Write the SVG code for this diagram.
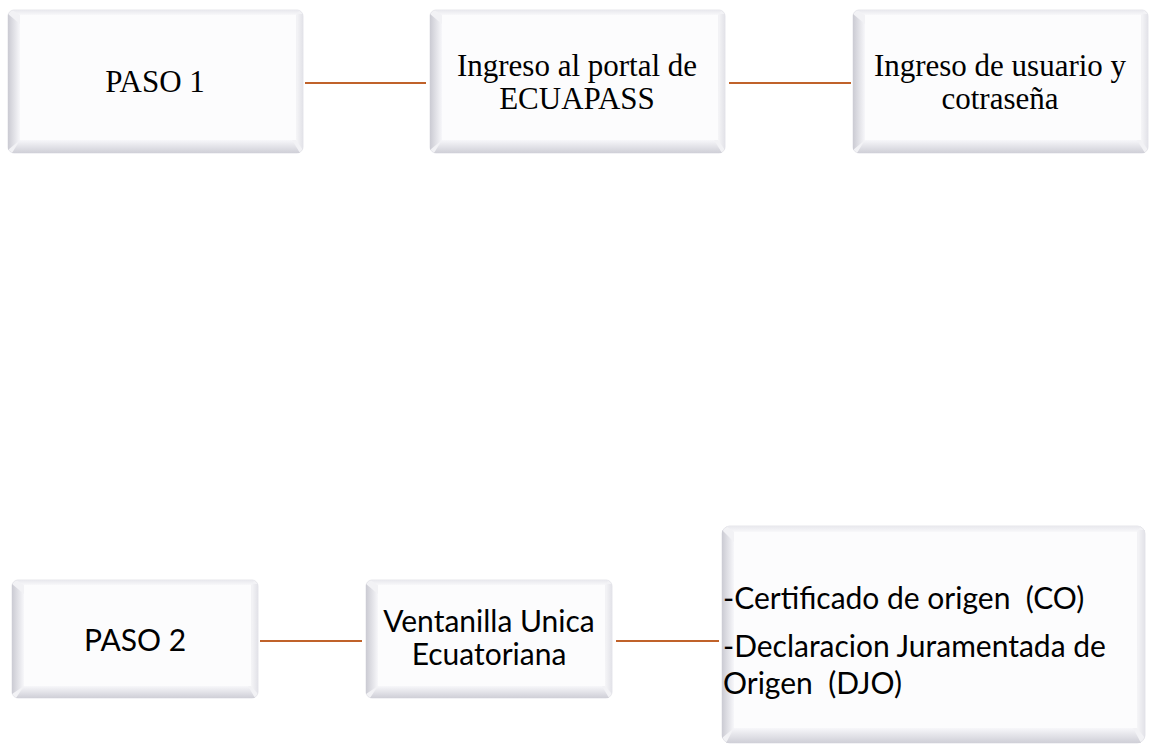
<svg xmlns="http://www.w3.org/2000/svg" width="1150" height="746" viewBox="0 0 1150 746">
<defs>
<linearGradient id="gl" x1="0" y1="0" x2="1" y2="0"><stop offset="0" stop-color="#cbcbd3"/><stop offset="1" stop-color="#f7f7fa"/></linearGradient>
<linearGradient id="gb" x1="0" y1="0" x2="0" y2="1"><stop offset="0" stop-color="#f7f7fa"/><stop offset="1" stop-color="#cfcfd7"/></linearGradient>
<linearGradient id="gt" x1="0" y1="0" x2="0" y2="1"><stop offset="0" stop-color="#e8e8ed"/><stop offset="1" stop-color="#f8f8fa"/></linearGradient>
<linearGradient id="gr" x1="0" y1="0" x2="1" y2="0"><stop offset="0" stop-color="#f6f6f8"/><stop offset="1" stop-color="#e2e2e8"/></linearGradient>
</defs>
<style>
.face{fill:#fcfcfd}
.outer{fill:#f2f2f5;stroke:#e6e6eb;stroke-width:1}
.serif{font-family:"Liberation Serif","Times New Roman",serif;font-size:31px;fill:#000;text-anchor:middle}
.sans{font-family:Lato,"Open Sans","Liberation Sans",sans-serif;font-size:30px;fill:#000;white-space:pre}
.conn{stroke:#c0622a;stroke-width:2.2;fill:none}
</style>
<rect width="1150" height="746" fill="#ffffff"/>
<g id="connectors">
<line class="conn" x1="305" y1="83" x2="426" y2="83"/>
<line class="conn" x1="729" y1="83" x2="851" y2="83"/>
<line class="conn" x1="260" y1="641" x2="362" y2="641"/>
<line class="conn" x1="616" y1="641" x2="719" y2="641"/>
</g>
<g id="paso1">
<rect class="outer" x="8" y="10" width="295" height="143" rx="6"/>
<polygon points="8,14 20,24 20,140 8,150" fill="url(#gl)"/>
<polygon points="12,153 20,140 292,140 300,153" fill="url(#gb)"/>
<polygon points="12,10 300,10 296,15 20,15" fill="url(#gt)"/>
<polygon points="298,14 303,14 303,150 296,140" fill="url(#gr)"/>
<rect class="face" x="20" y="15" width="276" height="125"/>
<text class="serif" x="155" y="92">PASO 1</text>
</g>
<g id="portal">
<rect class="outer" x="430" y="10" width="295" height="143" rx="6"/>
<polygon points="430,14 442,24 442,140 430,150" fill="url(#gl)"/>
<polygon points="434,153 442,140 714,140 722,153" fill="url(#gb)"/>
<polygon points="434,10 722,10 718,15 442,15" fill="url(#gt)"/>
<polygon points="720,14 725,14 725,150 718,140" fill="url(#gr)"/>
<rect class="face" x="442" y="15" width="276" height="125"/>
<text class="serif" x="577" y="76">Ingreso al portal de</text>
<text class="serif" x="577" y="109">ECUAPASS</text>
</g>
<g id="usuario">
<rect class="outer" x="853" y="10" width="295" height="143" rx="6"/>
<polygon points="853,14 865,24 865,140 853,150" fill="url(#gl)"/>
<polygon points="857,153 865,140 1137,140 1145,153" fill="url(#gb)"/>
<polygon points="857,10 1145,10 1141,15 865,15" fill="url(#gt)"/>
<polygon points="1143,14 1148,14 1148,150 1141,140" fill="url(#gr)"/>
<rect class="face" x="865" y="15" width="276" height="125"/>
<text class="serif" x="1000" y="76">Ingreso de usuario y</text>
<text class="serif" x="1000" y="109">cotraseña</text>
</g>
<g id="paso2">
<rect class="outer" x="12" y="580" width="246" height="118" rx="6"/>
<polygon points="12,584 24,594 24,686 12,694" fill="url(#gl)"/>
<polygon points="16,698 24,686 248,686 255,698" fill="url(#gb)"/>
<polygon points="16,580 255,580 251,585 24,585" fill="url(#gt)"/>
<polygon points="253,584 258,584 258,694 251,686" fill="url(#gr)"/>
<rect class="face" x="24" y="585" width="227" height="101"/>
<text class="sans" x="135" y="651" text-anchor="middle">PASO 2</text>
</g>
<g id="ventanilla">
<rect class="outer" x="366" y="580" width="246" height="118" rx="6"/>
<polygon points="366,584 378,594 378,686 366,694" fill="url(#gl)"/>
<polygon points="370,698 378,686 602,686 609,698" fill="url(#gb)"/>
<polygon points="370,580 609,580 605,585 378,585" fill="url(#gt)"/>
<polygon points="607,584 612,584 612,694 605,686" fill="url(#gr)"/>
<rect class="face" x="378" y="585" width="227" height="101"/>
<text class="sans" x="489" y="632" text-anchor="middle">Ventanilla Unica</text>
<text class="sans" x="489" y="665" text-anchor="middle">Ecuatoriana</text>
</g>
<g id="documentos">
<rect class="outer" x="722" y="526" width="423" height="217" rx="8"/>
<polygon points="722,530 734,542 734,728 722,738" fill="url(#gl)"/>
<polygon points="726,743 734,728 1133,728 1141,743" fill="url(#gb)"/>
<polygon points="726,526 1141,526 1137,532 734,532" fill="url(#gt)"/>
<polygon points="1139,530 1145,530 1145,738 1137,728" fill="url(#gr)"/>
<rect class="face" x="734" y="532" width="403" height="196"/>
<text class="sans" x="723" y="609">-Certificado de origen  (CO)</text>
<text class="sans" x="723" y="657">-Declaracion Juramentada de</text>
<text class="sans" x="723" y="694">Origen  (DJO)</text>
</g>
</svg>
